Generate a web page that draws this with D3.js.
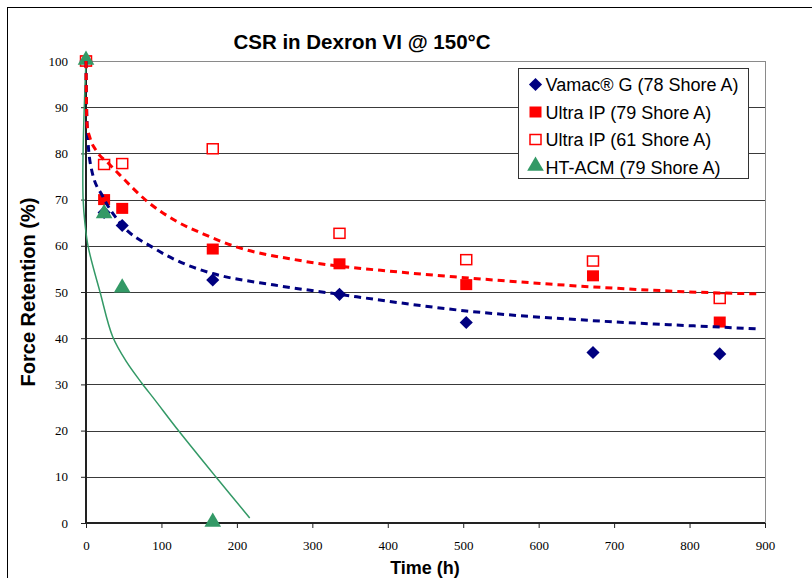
<!DOCTYPE html>
<html>
<head>
<meta charset="utf-8">
<script src="https://cdn.jsdelivr.net/npm/d3@7"></script>
<style>
  body { margin: 0; background: #fff; }
  svg { display: block; }
</style>
</head>
<body>
<svg width="812" height="578"></svg>
<script>
// measured points (time in hours, force retention in %)
const hours = [0, 24, 48, 168, 336, 504, 672, 840];
const vamacG78 = [100, 67.2, 64.4, 52.6, 49.5, 43.4, 36.9, 36.6];
const ultraIP79 = [100, 70, 68.1, 59.3, 56.1, 51.6, 53.5, 43.5];
const ultraIP61 = [100, 77.6, 77.8, 81, 62.7, 57, 56.7, 48.6];
const htAcmHours = [0, 24, 48, 168];
const htAcm79 = [100, 66.8, 50.7, 0];

// trend curves
const vamacTrend = [[0, 100], [0.8, 90], [2.5, 83], [7.5, 76.4], [22.5, 70.6], [45, 65], [90, 59.5],
  [138, 55.6], [168, 54], [250, 51.5], [331, 49.6], [504, 45.9], [672, 43.8], [840, 42.4], [890, 42]];
const ultraTrend = [[0, 100], [0.5, 92], [1.5, 86], [5, 83.5], [14, 80.5], [30, 77.8], [45, 75.3],
  [82, 69.5], [120, 65.3], [155, 62.6], [195, 60], [284, 56.8], [416, 54.3], [502, 53.1],
  [672, 51.1], [839, 49.8], [890, 49.6]];
const htAcmTrend = [[0, 100], [-2.7, 88], [-4.2, 76], [-3.8, 70], [-1.5, 65], [3, 59.7], [18.6, 50],
  [35.4, 40.3], [54, 34.8], [73.8, 30.3], [91.5, 26.6], [123, 19.9], [172, 10], [217, 1.1]];

const legendLabels = ["Vamac\u00ae G (78 Shore A)", "Ultra IP (79 Shore A)", "Ultra IP (61 Shore A)", "HT-ACM (79 Shore A)"];
const xTicks = d3.range(0, 901, 100);
const yTicks = d3.range(0, 101, 10);

const navy = "#000080", red = "#ff0000", green = "#339966";
const sans = "'Liberation Sans', Arial, sans-serif";
const serif = "'Liberation Serif', 'Times New Roman', serif";

const svg = d3.select("svg");
const plotLeft = 86, plotRight = 765, plotTop = 61, plotBottom = 523;

const x = d3.scaleLinear().domain([0, 900]).range([plotLeft, plotRight]);
const y = d3.scaleLinear().domain([0, 100]).range([plotBottom, plotTop]);

// outer frame
svg.append("rect")
  .attr("x", 7.5).attr("y", 7.5)
  .attr("width", 900).attr("height", 700)
  .attr("fill", "none").attr("stroke", "#000");

// title
svg.append("text")
  .attr("x", 362).attr("y", 49)
  .attr("text-anchor", "middle")
  .attr("font-family", sans)
  .attr("font-weight", "bold").attr("font-size", 20.5)
  .text("CSR in Dexron VI @ 150\u00b0C");

// gridlines
svg.append("g")
  .selectAll("line")
  .data(yTicks.filter(d => d > 0))
  .enter()
  .append("line")
  .attr("x1", plotLeft).attr("x2", plotRight)
  .attr("y1", d => Math.round(y(d)) + 0.5).attr("y2", d => Math.round(y(d)) + 0.5)
  .attr("stroke", d => d === 100 ? "#8a8a8a" : "#3a3a3a")
  .attr("stroke-width", 1);

// right border of plot area
svg.append("line")
  .attr("x1", plotRight + 0.5).attr("x2", plotRight + 0.5)
  .attr("y1", plotTop).attr("y2", plotBottom)
  .attr("stroke", "#8a8a8a");

// axes
const yAxis = svg.append("g")
  .attr("transform", `translate(${plotLeft},0)`)
  .call(d3.axisLeft(y).tickValues(yTicks).tickSize(5).tickPadding(13));
const xAxis = svg.append("g")
  .attr("transform", `translate(0,${plotBottom})`)
  .call(d3.axisBottom(x).tickValues(xTicks).tickSize(5).tickPadding(13));

[yAxis, xAxis].forEach(g => {
  g.attr("font-family", serif).attr("font-size", 13);
  g.select(".domain").attr("stroke", "#222").attr("stroke-width", 2);
  g.selectAll(".tick line").attr("stroke", "#222");
  g.selectAll(".tick text").attr("fill", "#000");
});
xAxis.select(".domain").attr("d", `M${plotLeft},0H${plotRight}`);
yAxis.select(".domain").attr("d", `M0,${plotBottom}V${plotTop}`);

// axis titles
svg.append("text")
  .attr("transform", `translate(35,292) rotate(-90)`)
  .attr("text-anchor", "middle")
  .attr("font-family", sans)
  .attr("font-weight", "bold").attr("font-size", 20)
  .text("Force Retention (%)");
svg.append("text")
  .attr("x", 425).attr("y", 574)
  .attr("text-anchor", "middle")
  .attr("font-family", sans)
  .attr("font-weight", "bold").attr("font-size", 18)
  .text("Time (h)");

// trend lines
const smooth = d3.line()
  .x(d => x(d[0]))
  .y(d => y(d[1]))
  .curve(d3.curveMonotoneX);
const free = d3.line()
  .x(d => x(d[0]))
  .y(d => y(d[1]))
  .curve(d3.curveCatmullRom.alpha(0.5));

svg.append("path").datum(htAcmTrend)
  .attr("d", free).attr("fill", "none")
  .attr("stroke", green).attr("stroke-width", 1.5);

// markers
const diamond = d3.symbol().type(d3.symbolDiamond2).size(110);
const triangle = d3.symbol().type(d3.symbolTriangle).size(120);

svg.append("g")
  .selectAll("path")
  .data(hours.map((h, i) => [h, vamacG78[i]]))
  .enter()
  .append("path")
  .attr("d", diamond)
  .attr("transform", d => `translate(${x(d[0])},${y(d[1])})`)
  .attr("fill", navy);

svg.append("g")
  .selectAll("rect")
  .data(hours.map((h, i) => [h, ultraIP79[i]]))
  .enter()
  .append("rect")
  .attr("x", d => x(d[0]) - 6).attr("y", d => y(d[1]) - 5.5)
  .attr("width", 12).attr("height", 11)
  .attr("fill", red);

svg.append("g")
  .selectAll("rect")
  .data(hours.map((h, i) => [h, ultraIP61[i]]))
  .enter()
  .append("rect")
  .attr("x", d => x(d[0]) - 5.5).attr("y", d => y(d[1]) - 5)
  .attr("width", 11).attr("height", 10)
  .attr("fill", "#fff").attr("stroke", red).attr("stroke-width", 1.5);

svg.append("g")
  .selectAll("path")
  .data(htAcmHours.map((h, i) => [h, htAcm79[i]]))
  .enter()
  .append("path")
  .attr("d", triangle)
  .attr("transform", d => `translate(${x(d[0])},${y(d[1]) - 1})`)
  .attr("fill", green);

svg.append("path").datum(vamacTrend)
  .attr("d", smooth).attr("fill", "none")
  .attr("stroke", navy).attr("stroke-width", 3)
  .attr("stroke-dasharray", "7,5");
svg.append("path").datum(ultraTrend)
  .attr("d", smooth).attr("fill", "none")
  .attr("stroke", red).attr("stroke-width", 3)
  .attr("stroke-dasharray", "7,5");

// legend
const legend = svg.append("g").attr("transform", "translate(518.5,68.5)");
legend.append("rect")
  .attr("width", 230).attr("height", 110)
  .attr("fill", "#fff").attr("stroke", "#333");

const rows = legend.selectAll("g")
  .data(legendLabels)
  .enter()
  .append("g")
  .attr("transform", (d, i) => `translate(0,${16 + i * 27.5})`);

rows.append("text")
  .attr("x", 27).attr("y", 6.5)
  .attr("font-family", sans)
  .attr("font-size", 18)
  .text(d => d);

rows.filter((d, i) => i === 0).append("path")
  .attr("d", diamond).attr("transform", "translate(17,0)").attr("fill", navy);
rows.filter((d, i) => i === 1).append("rect")
  .attr("x", 11).attr("y", -5.5).attr("width", 12).attr("height", 11).attr("fill", red);
rows.filter((d, i) => i === 2).append("rect")
  .attr("x", 11.5).attr("y", -5).attr("width", 11).attr("height", 10)
  .attr("fill", "#fff").attr("stroke", red).attr("stroke-width", 1.5);
rows.filter((d, i) => i === 3).append("path")
  .attr("d", triangle).attr("transform", "translate(17,-1)").attr("fill", green);
</script>
</body>
</html>
